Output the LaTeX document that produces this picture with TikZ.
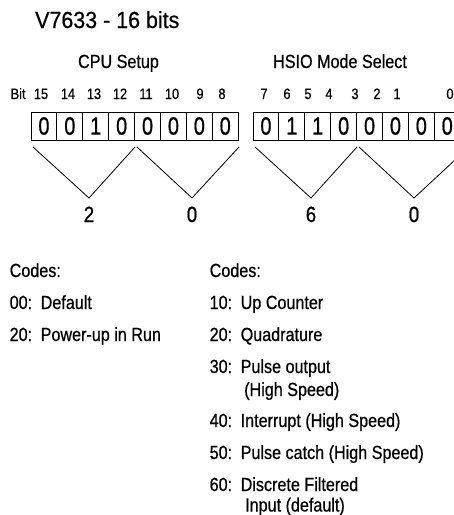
\documentclass[tikz,border=0pt]{standalone}
\usepackage{fontspec}
\setmainfont{Liberation Sans}[FakeStretch=0.85,FakeBold=0.6]
\newfontfamily\titfont{Liberation Sans}[FakeStretch=0.92,FakeBold=0.6]
\newfontfamily\digfont{Liberation Sans}[FakeStretch=0.8,FakeBold=0.6]
\begin{document}
\begin{tikzpicture}[x=1pt,y=-1pt,
  txt/.style={anchor=base west,inner sep=0pt,font=\fontsize{19}{22}\selectfont},
  head/.style={anchor=base,inner sep=0pt,font=\fontsize{19}{22}\selectfont},
  bitlbl/.style={anchor=base,inner sep=0pt,font=\fontsize{15}{18}\selectfont},
  cell/.style={draw,line width=0.9pt,minimum width=25.9pt,minimum height=28pt,inner sep=0pt,outer sep=0pt,font=\digfont\fontsize{25}{25}\selectfont},
  hexd/.style={anchor=base,inner sep=0pt,font=\fontsize{22}{24}\selectfont},
  vline/.style={line width=0.8pt}]
\useasboundingbox (0,0) rectangle (454,515);
\clip (0,0) rectangle (454,515);

% title and headings
\node[anchor=base west,inner sep=0pt,font=\titfont\fontsize{23.3}{26}\selectfont] (title) at (35,28) {V7633 - 16 bits};
\node[head] (cpu) at (118.5,68) {CPU Setup};
\node[head] (hsio) at (340,68) {HSIO Mode Select};

% bit numbers
\node[bitlbl,anchor=base west] (bit) at (10.5,99) {Bit};
\foreach \n/\x in {15/41,14/68,13/94,12/120,11/146,10/172,9/200,8/222,7/264,6/287,5/308,4/329,3/355,2/377,1/397,0/450}
  \node[bitlbl] (b\n) at (\x,99) {\n};

% bit cells
\foreach \i/\v in {0/0,1/0,2/1,3/0,4/0,5/0,6/0,7/0}
  \node[cell] (L\i) at ({31+25.9*\i+12.95},126) {\v};
\foreach \i/\v in {0/0,1/1,2/1,3/0,4/0,5/0,6/0,7/0}
  \node[cell] (R\i) at ({253+25.9*\i+12.95},126) {\v};

% V groupings
\coordinate (a1) at (33,147);  \coordinate (p1) at (89,198);  \coordinate (c1) at (135,147);
\coordinate (a2) at (137,147); \coordinate (p2) at (192,198); \coordinate (c2) at (239,147);
\coordinate (a3) at (255,147); \coordinate (p3) at (311,198); \coordinate (c3) at (357,147);
\coordinate (a4) at (359,147); \coordinate (p4) at (414,198); \coordinate (c4) at (469,147);
\draw[vline] (a1) -- (p1) -- (c1);
\draw[vline] (a2) -- (p2) -- (c2);
\draw[vline] (a3) -- (p3) -- (c3);
\draw[vline] (a4) -- (p4) -- (c4);

\node[hexd] (h1) at (89,222) {2};
\node[hexd] (h2) at (192,222) {0};
\node[hexd] (h3) at (311,222) {6};
\node[hexd] (h4) at (414,222) {0};

% left codes
\node[txt] (lc) at (9.5,277) {Codes:};
\node[txt] (l00) at (9.5,309) {00:};
\node[txt] (l00t) at (40.5,309) {Default};
\node[txt] (l20) at (9.5,341) {20:};
\node[txt] (l20t) at (40.5,341) {Power-up in Run};

% right codes
\node[txt] (rc) at (209.5,277) {Codes:};
\node[txt] (r10) at (209.5,309) {10:};
\node[txt] (r10t) at (240.5,309) {Up Counter};
\node[txt] (r20) at (209.5,341) {20:};
\node[txt] (r20t) at (240.5,341) {Quadrature};
\node[txt] (r30) at (209.5,373) {30:};
\node[txt] (r30t) at (240.5,373) {Pulse output};
\node[txt] (r30u) at (244,396) {(High Speed)};
\node[txt] (r40) at (209.5,427) {40:};
\node[txt] (r40t) at (240.5,427) {Interrupt (High Speed)};
\node[txt] (r50) at (209.5,459) {50:};
\node[txt] (r50t) at (240.5,459) {Pulse catch (High Speed)};
\node[txt] (r60) at (209.5,491) {60:};
\node[txt] (r60t) at (240.5,491) {Discrete Filtered};
\node[txt] (r60u) at (245,511.5) {Input (default)};
\end{tikzpicture}
\end{document}
